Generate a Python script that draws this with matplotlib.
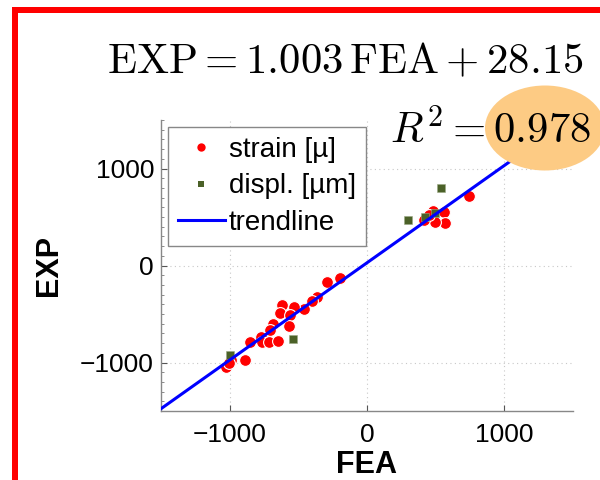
import matplotlib
matplotlib.use("Agg")
import matplotlib.pyplot as plt
from matplotlib.patches import Ellipse, Rectangle
from matplotlib.ticker import MultipleLocator
import numpy as np

plt.rcParams['font.family'] = ['Liberation Sans', 'DejaVu Sans']
plt.rcParams['mathtext.fontset'] = 'cm'

# ---- data ----
strain_fea = [744, 560, 565, 478, 495, 415, 455,
              -195, -288, -365, -400, -462, -535, -622, -630, -558, -565,
              -683, -705, -775, -765, -715, -645, -855, -885, -990, -1030, -1005]
strain_exp = [720, 548, 440, 560, 450, 470, 520,
              -128, -172, -326, -368, -445, -430, -412, -485, -515, -620,
              -600, -670, -735, -790, -790, -775, -792, -978, -975, -1048, -1000]
displ_fea = [541, 295, 425, 493, -541, -1000]
displ_exp = [800, 472, 500, 540, -758, -920]
slope = 1.003
intercept = 28.15
trend_x = [-1500, 1500]
labels = ['strain [µ]', 'displ. [µm]', 'trendline']
ticks = [-1000, 0, 1000]

W, H = 600, 480
fig = plt.figure(figsize=(6, 4.8), dpi=100)
ax = fig.add_axes([161/W, 1-411/H, (573-161)/W, (411-120)/H])

ax.plot(strain_fea, strain_exp, 'o', color='#FF0000', ms=8.5, mec='white', mew=0.8,
        label=labels[0], zorder=3)
ax.plot(displ_fea, displ_exp, 's', color='#4B6128', ms=6, mec='#9aa884', mew=0.4,
        label=labels[1], zorder=3)
tx = np.array(trend_x, dtype=float)
ax.plot(tx, slope*tx + intercept, '-', color='#0000FF', lw=2.2, label=labels[2], zorder=4)

ax.set_xlim(-1500, 1500)
ax.set_ylim(-1500, 1500)
ax.set_xticks(ticks)
ax.set_yticks(ticks)
ax.set_xticklabels(['\u22121000', '0', '1000'])
ax.set_yticklabels(['\u22121000', '0', '1000'])
ax.yaxis.set_minor_locator(MultipleLocator(100))
ax.tick_params(axis='both', which='major', direction='in', length=4, width=0.8,
               color='#555555', labelsize=19)
ax.tick_params(axis='x', which='major', pad=9)
ax.tick_params(axis='y', which='major', pad=5)
ax.tick_params(axis='y', which='minor', direction='in', length=2, width=0.6, color='#777777')
ax.grid(True, which='major', linestyle=(0, (1, 3)), color='#c8c8c8', lw=0.8)
for s in ['top', 'right']:
    ax.spines[s].set_visible(False)
for s in ['left', 'bottom']:
    ax.spines[s].set_color('#888888')
    ax.spines[s].set_linewidth(1.0)

ax.set_xlabel('FEA', fontsize=22, fontweight='bold', labelpad=2)
ax.set_ylabel('EXP', fontsize=22, fontweight='bold', labelpad=12)

leg = ax.legend(loc='upper left', bbox_to_anchor=(0.017, 0.976), borderaxespad=0,
                fontsize=20, handlelength=1.7, handletextpad=0.15, borderpad=0.35,
                labelspacing=0.38, fancybox=False, framealpha=1, edgecolor='#888888')
leg.get_frame().set_linewidth(1.0)
hs = leg.legend_handles
hs[0].set_markersize(6)
hs[0].set_markeredgewidth(0)
hs[1].set_markersize(4.5)
hs[1].set_markeredgewidth(0)

# red frame
fig.add_artist(Rectangle((12/W, 0), 6/W, (480-7)/H, transform=fig.transFigure,
                         color='#FF0000', lw=0, zorder=10))
fig.add_artist(Rectangle((12/W, 1-13/H), (600-12)/W, 6/H, transform=fig.transFigure,
                         color='#FF0000', lw=0, zorder=10))

# highlight ellipse
fig.add_artist(Ellipse((545/W, 1-128/H), 120/W, 85/H, transform=fig.transFigure,
                       color='#FDCB84', lw=0, zorder=5))

fig.text(107/W, 1-73/H, r'$\mathrm{EXP} = 1.003\,\mathrm{FEA} + 28.15$',
         fontsize=30.8, ha='left', va='baseline', zorder=6)
fig.text(390/W, 1-143/H, r'$R^2 = 0.978$',
         fontsize=30.8, ha='left', va='baseline', zorder=6)

fig.savefig('out.png', dpi=100)
